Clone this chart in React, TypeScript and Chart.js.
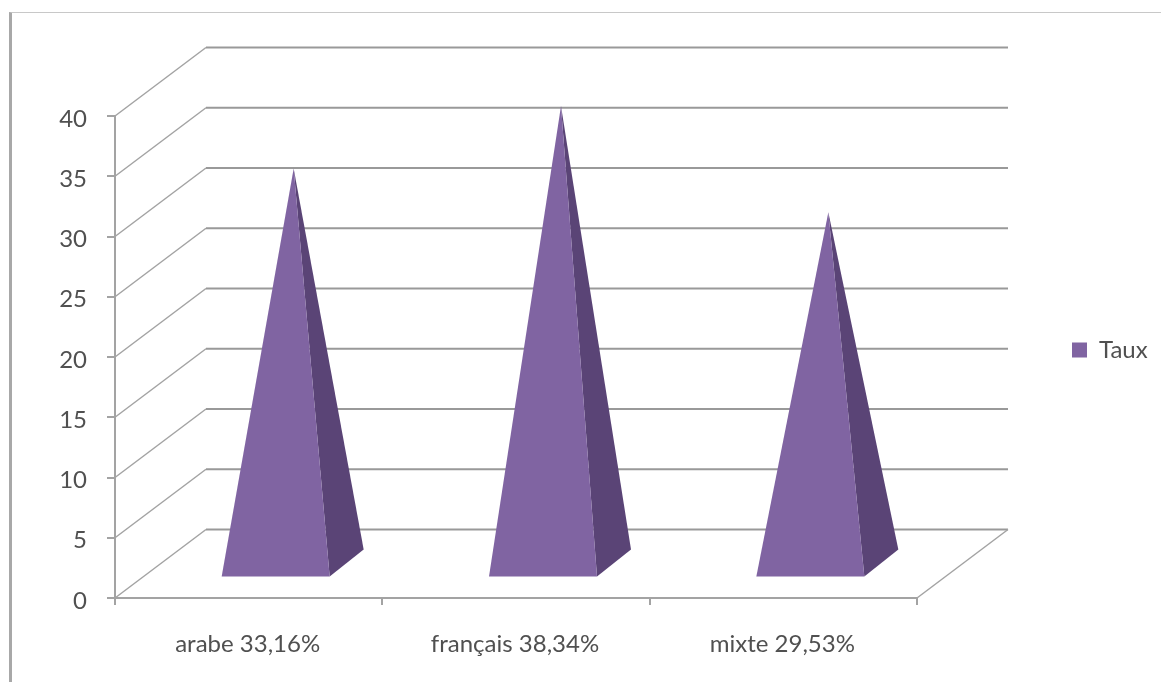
import React, { useEffect, useRef } from "react";
import { Chart, BarController, registerables } from "chart.js";

const categories = ["arabe 33,16%", "français 38,34%", "mixte 29,53%"];
const taux = [33.16, 38.34, 29.53];
const seriesName = "Taux";

const FONT = "Lato";
const TEXT = "#505050";
const GRID = "#a3a3a3";
const BACK_GRID = "#999999";
const FACE = "#8064a2";
const SIDE = "#5a4476";

// Oblique projection of the 3D walls: how far the back wall is shifted.
const DEPTH_X = 91;
const DEPTH_Y = 68.5;

// Pyramid drawn from each bar's category centre and value pixel.
class PyramidController extends BarController {
  static id = "pyramid";
  static defaults = BarController.defaults;
  static overrides = BarController.overrides;

  draw() {
    const { ctx } = this.chart;
    const meta = this.getMeta();
    const yScale = meta.vScale;
    const base = yScale.getPixelForValue(0);
    const values = this.getDataset().data as number[];
    meta.data.forEach((bar: any, i: number) => {
      const cx = bar.x;
      const frontY = base - 21.5;
      const left = cx - 27;
      const right = cx + 81;
      const apexX = cx + 45;
      const apexY = yScale.getPixelForValue(values[i]) - 30;
      ctx.save();
      ctx.fillStyle = SIDE;
      ctx.beginPath();
      ctx.moveTo(right, frontY);
      ctx.lineTo(right + 34, frontY - 27);
      ctx.lineTo(apexX, apexY);
      ctx.closePath();
      ctx.fill();
      ctx.fillStyle = FACE;
      ctx.beginPath();
      ctx.moveTo(left, frontY);
      ctx.lineTo(right, frontY);
      ctx.lineTo(apexX, apexY);
      ctx.closePath();
      ctx.fill();
      ctx.restore();
    });
  }
}

Chart.register(...registerables, PyramidController);

// Side wall, back wall and floor edge of the 3D plot box.
const wallsPlugin = {
  id: "walls",
  beforeDatasetsDraw(chart: any) {
    const { ctx, chartArea, scales } = chart;
    const { left, right } = chartArea;
    ctx.save();
    scales.y.ticks.forEach((tick: any) => {
      const y = scales.y.getPixelForValue(tick.value);
      ctx.strokeStyle = GRID;
      ctx.lineWidth = 1.5;
      ctx.beginPath();
      ctx.moveTo(left, y);
      ctx.lineTo(left + DEPTH_X, y - DEPTH_Y);
      ctx.stroke();
      ctx.strokeStyle = BACK_GRID;
      ctx.lineWidth = 2;
      ctx.beginPath();
      ctx.moveTo(left + DEPTH_X, y - DEPTH_Y);
      ctx.lineTo(right + DEPTH_X, y - DEPTH_Y);
      ctx.stroke();
    });
    const floor = scales.y.getPixelForValue(0);
    ctx.strokeStyle = GRID;
    ctx.lineWidth = 1.5;
    ctx.beginPath();
    ctx.moveTo(right, floor);
    ctx.lineTo(right + DEPTH_X, floor - DEPTH_Y);
    ctx.stroke();
    ctx.restore();
  },
};

// Moves the legend to its place in the right margin.
const legendPlacement = {
  id: "legendPlacement",
  afterLayout(chart: any) {
    const lg = chart.legend;
    lg.left = 1062;
    lg.right = lg.left + lg.width;
    lg.top = 328;
    lg.bottom = lg.top + lg.height;
  },
};

export default function App() {
  const ref = useRef<HTMLCanvasElement>(null);
  useEffect(() => {
    const chart = new Chart(ref.current!, {
      type: "pyramid" as any,
      data: {
        labels: categories,
        datasets: [{ label: seriesName, data: taux, backgroundColor: FACE, clip: false }],
      },
      plugins: [wallsPlugin, legendPlacement],
      options: {
        animation: false,
        responsive: false,
        layout: { padding: { top: 116, left: 0, right: 244, bottom: 0 } },
        plugins: {
          title: { display: false },
          tooltip: { enabled: false },
          legend: {
            position: "chartArea" as any,
            align: "start",
            labels: {
              boxWidth: 15,
              boxHeight: 15,
              padding: 10,
              color: TEXT,
              font: { family: FONT, size: 24 },
            },
          },
        },
        scales: {
          x: {
            type: "category",
            offset: true,
            afterFit: (s: any) => {
              s.height = 84;
            },
            grid: {
              offset: true,
              drawOnChartArea: false,
              tickLength: 7,
              color: GRID,
              lineWidth: 2,
            },
            border: { color: GRID, width: 2 },
            ticks: {
              color: TEXT,
              padding: 25,
              labelOffset: -1,
              maxRotation: 0,
              font: { family: FONT, size: 24 },
            },
          },
          y: {
            type: "linear",
            min: 0,
            max: 40,
            afterFit: (s: any) => {
              s.width = 115;
            },
            grid: {
              drawOnChartArea: false,
              tickLength: 8,
              color: GRID,
              lineWidth: 2,
            },
            border: { color: GRID, width: 2 },
            ticks: {
              stepSize: 5,
              color: TEXT,
              padding: 20,
              labelOffset: 3,
              font: { family: FONT, size: 24 },
            },
          },
        },
      },
    });
    return () => chart.destroy();
  }, []);

  return (
    <div style={{ position: "fixed", inset: 0, background: "#ffffff" }}>
      <div
        style={{
          position: "absolute",
          left: 9,
          top: 12,
          right: 0,
          bottom: 0,
          borderLeft: "3px solid #a8a8a8",
          borderTop: "1px solid #c8c8c8",
        }}
      />
      <canvas
        ref={ref}
        width={1161}
        height={682}
        style={{ position: "absolute", left: 0, top: 0, display: "block" }}
      />
    </div>
  );
}
